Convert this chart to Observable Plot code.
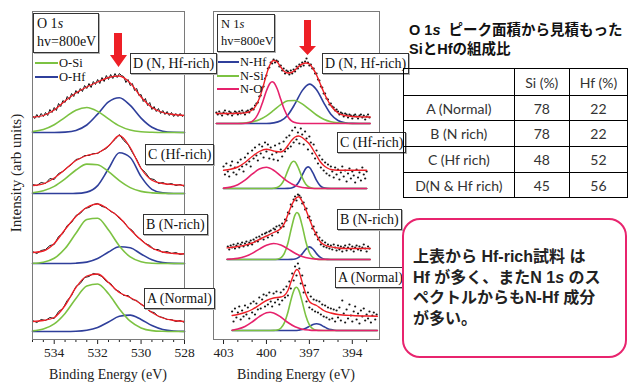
<!DOCTYPE html>
<html><head><meta charset="utf-8">
<script src="https://cdn.jsdelivr.net/npm/d3@7"></script>
<script src="https://cdn.jsdelivr.net/npm/@observablehq/plot@0.6"></script>
<style>
html,body{margin:0;padding:0;background:#fff;}
#wrap{position:relative;width:628px;height:383px;overflow:hidden;background:#fff;font-family:"Liberation Serif",serif;color:#111;}
.ab{position:absolute;}
.lbl{position:absolute;background:#fff;border:1px solid #333;box-shadow:1px 1px 0 #b0b0b0;font-family:"Liberation Serif",serif;font-size:14px;line-height:19px;padding:0 2px;white-space:nowrap;color:#111;}
.hv{position:absolute;background:#fff;border:1px solid #333;box-shadow:1px 1px 0 #b0b0b0;font-family:"Liberation Serif",serif;padding:1px 3px;white-space:nowrap;color:#111;}
.leg{position:absolute;font-family:"Liberation Serif",serif;font-size:12.5px;line-height:14px;white-space:nowrap;color:#111;}
.serif{font-family:"Liberation Serif",serif;white-space:nowrap;color:#222;}
.sw{position:absolute;height:2px;}
table.t{position:absolute;left:403px;top:68px;border-collapse:collapse;font-family:Lato,"Liberation Sans",sans-serif;font-size:14px;color:#333;}
table.t td{border:1px solid #000;padding:0;text-align:center;vertical-align:middle;}
</style></head><body><div id="wrap"></div>
<script>
// ---------------- O 1s data (heights in arb. units above each spectrum's baseline) ----------------
const spectra = ["A", "B", "C", "D"];
const oEnergy = [535, 534.5, 534, 533.5, 533, 532.5, 532, 531.5, 531, 530.5, 530, 529.5, 529, 528.5, 528];
const oBase = [8, 76, 146, 207];
const oSi_A = [0.6, 2.4, 7.6, 18.1, 33, 45.5, 47.5, 37.7, 22.6, 10.3, 3.6, 0.9, 0.2, 0, 0];
const oHf_A = [0, 0, 0, 0, 0.2, 1.2, 4.0, 9.5, 15.2, 16.4, 12, 5.9, 2.0, 0.5, 0.1];
const oFit_A = [10, 11, 14, 26, 44, 55.5, 57.5, 49, 39, 34, 27.5, 19, 13.5, 11, 10];
const oSi_B = [0.2, 1.3, 5.2, 14.9, 30.2, 43.9, 45.3, 33.5, 17.6, 6.6, 1.8, 0.3, 0, 0, 0];
const oHf_B = [0, 0, 0, 0, 0.3, 1.4, 5.0, 11.5, 16.8, 15.8, 9.5, 3.7, 0.9, 0.1, 0];
const oFit_B = [11, 12.5, 20, 34, 47, 56, 59.5, 54, 46, 34, 23.5, 15.5, 11.5, 10, 9.5];
const oSi_C = [0.8, 2.7, 7.1, 14.6, 23.5, 29.4, 28.7, 21.8, 12.9, 5.9, 2.1, 0.6, 0.1, 0, 0];
const oHf_C = [0, 0, 0, 0, 0.1, 1.4, 7.9, 24.7, 40.8, 36, 16.9, 4.2, 0.6, 0, 0];
const oFit_C = [8, 9.7, 15.5, 24, 33, 38, 40.5, 47.5, 58, 46, 25, 13.2, 10, 8.8, 8];
const oSi_D = [0.9, 3.0, 7.8, 15.2, 22.3, 25, 21.1, 13.6, 6.6, 2.4, 0.7, 0.2, 0, 0, 0];
const oHf_D = [0, 0, 0, 0.4, 2.1, 7.5, 18.4, 30.6, 34.8, 27.1, 14.4, 5.2, 1.3, 0.2, 0];
const oFit_D = [15.3, 17, 22.5, 31.5, 39.5, 45.5, 50.5, 55, 56.5, 49.5, 35.5, 25, 20, 18, 17];
// measured O 1s spectra, sampled from 535 eV downward
const oDataStep = [0.2, 0.2, 0.2, 0.1];
const oData_A = [11,9,12,11,14,13,20,23,31,36,45,48,54,55,58,57,55,50,48,42,40,36,36,32,31,27,25,20,19,15,14,12,12,10,11,9];
const oData_B = [12,10,13,14,18,19,27,30,38,41,48,50,55,56,59,60,57,56,52,50,45,42,36,33,27,24,20,18,14,14,11,12,10,11,9,10];
const oData_C = [9,8,11,10,15,14,20,22,26,29,34,35,38,38,40,40,43,45,50,54,59,53,49,41,34,25,21,15,14,10,11,9,10,8,9,7];
const oData_D = [17,14,18,15,19,16,20,17,23,20,25,22,29,26,32,30,36,33,39,36,42,39,44,41,47,44,49,45,51,48,53,49,55,51,57,53,58,54,59,55,59,57,56,50,53,47,49,42,44,37,38,31,34,27,30,23,26,21,24,19,22,18,21,17,20,16,19,16,19,16,18];
const oMajorTicks = [534, 532, 530, 528];
const oMinorTicks = [535, 534.5, 533.5, 533, 532.5, 531.5, 531, 530.5, 529.5, 529, 528.5];

// ---------------- N 1s data ([binding energy, height]) ----------------
const nBase = [9, 80, 151, 216];
const nHf_A = [[402.4,0],[398,0],[397.75,0.3],[397.5,0.9],[397.25,2.2],[397,4.1],[396.75,6.0],[396.5,6.7],[396.25,5.9],[396,4.0],[395.75,2.1],[395.5,0.9],[395.25,0.3],[395,0],[392.25,0]];
const nSi_A = [[402.4,0],[399.75,0],[399.5,0.1],[399.25,0.5],[399,2.3],[398.75,7.6],[398.5,18.3],[398.25,32.6],[398,42.4],[397.9,43.3],[397.75,40.7],[397.5,28.6],[397.25,14.8],[397,5.6],[396.75,1.6],[396.5,0.3],[396.25,0],[392.25,0]];
const nO_A = [[402.4,0.3],[402,1.4],[401.5,4.0],[401,8.5],[400.5,13.9],[400,17.8],[399.75,18.3],[399.5,17.6],[399,13.5],[398.5,8.0],[398,3.7],[397.5,1.3],[397,0.4],[396.5,0.1],[396,0],[392.25,0]];
const nFit_A = [[402.4,15],[402,16],[401.5,18],[401,21],[400.5,25.5],[400,30],[399.5,32.5],[399,33.5],[398.75,35],[398.5,40],[398.25,50],[398,59],[397.875,61],[397.75,59.5],[397.5,48],[397.25,36.5],[397,29],[396.75,26.5],[396.5,25],[396.25,22.5],[396,20],[395.5,17.5],[395,16],[394,15],[393,14.5],[392.25,14.3]];
const nHf_B = [[402.75,0],[398.5,0],[398.25,0.1],[398,0.5],[397.75,2.1],[397.5,5.6],[397.25,10.2],[397,12.6],[396.75,10.5],[396.5,5.9],[396.25,2.3],[396,0.6],[395.75,0.1],[395.5,0],[392.75,0]];
const nSi_B = [[402.75,0],[399.5,0],[399.25,0.3],[399,1.6],[398.75,6.1],[398.5,16.3],[398.25,31.7],[398,44.7],[397.875,47],[397.75,45.5],[397.5,33.6],[397.25,18],[397,7],[396.75,1.9],[396.5,0.4],[396.25,0],[392.75,0]];
const nO_B = [[402.75,0.2],[402.5,0.4],[402,1.1],[401.5,2.9],[401,6.1],[400.5,10.4],[400,14.3],[399.5,16],[399,14.5],[398.5,10.6],[398,6.3],[397.5,3.0],[397,1.2],[396.5,0.4],[396,0.1],[395.5,0],[392.75,0]];
const nFit_B = [[402.75,11.6],[402.5,12],[402,13],[401.5,14.4],[401,16.5],[400.5,20],[400,23.5],[399.5,27],[399,31],[398.75,36],[398.5,45],[398.25,54],[398,60.5],[397.75,62.8],[397.5,58],[397.25,50],[397,40.5],[396.75,31.5],[396.5,24.5],[396.25,18],[396,15],[395.5,12.6],[395,11.5],[394.5,11],[393.5,11],[392.75,11]];
const nHf_C = [[403,0],[398.75,0],[398.5,0.1],[398.25,0.5],[398,2.1],[397.75,6.3],[397.5,13.4],[397.25,20.1],[397.09,21.6],[397,21.1],[396.75,15.6],[396.5,8.1],[396.25,2.9],[396,0.7],[395.75,0.1],[395.5,0],[393,0]];
const nSi_C = [[403,0],[399.75,0],[399.5,0.2],[399.25,0.9],[399,3.4],[398.75,9.2],[398.5,18.1],[398.25,25.8],[398.1,27.3],[398,26.6],[397.75,19.9],[397.5,10.8],[397.25,4.2],[397,1.2],[396.75,0.2],[396.5,0],[393,0]];
const nO_C = [[403,0.4],[402.5,1.4],[402,3.8],[401.5,8.3],[401,14.3],[400.5,19.5],[400,21.2],[399.5,18.3],[399,12.5],[398.5,6.8],[398,2.9],[397.5,1.0],[397,0.3],[396.5,0],[393,0]];
const nFit_C = [[403,18.3],[402.5,19.3],[402,21.5],[401.5,26],[401,32],[400.5,37],[400,39.3],[399.5,37.5],[399,36.5],[398.75,38.5],[398.5,43],[398.25,48],[398,51.5],[397.75,52.5],[397.5,51],[397.25,48],[397,44.5],[396.75,39],[396.5,33],[396.25,27],[396,23],[395.75,20.5],[395.5,19],[395,18.3],[394,18.3],[393,18.3]];
const nHf_D = [[403.5,0],[400,0],[399.5,0.6],[399,2.7],[398.5,8.6],[398,19.8],[397.5,32.9],[397,39.4],[396.5,33.8],[396,20.9],[395.5,9.3],[395,3.0],[394.5,0.7],[394,0.1],[393.5,0],[392.75,0]];
const nSi_D = [[403.5,0],[402,0],[401.5,0.5],[401,1.6],[400.5,3.8],[400,7.7],[399.5,13.1],[399,18.8],[398.5,22.7],[398,23.0],[397.5,19.6],[397,14.1],[396.5,8.5],[396,4.3],[395.5,1.8],[395,0.7],[394.5,0.2],[394,0],[392.75,0]];
const nO_D = [[403.5,0],[401.75,0],[401.5,0.2],[401.25,0.7],[401,2.1],[400.75,5.6],[400.5,12.2],[400.25,22],[400,32.7],[399.75,40.3],[399.6,41.7],[399.5,41.1],[399.25,34.7],[399,24.2],[398.75,14],[398.5,6.7],[398.25,2.6],[398,0.9],[397.75,0.2],[397.5,0],[392.75,0]];
const nFit_D = [[403.5,10],[403,10],[402.5,10],[402,10.2],[401.5,10.6],[401.25,11.5],[401,13.5],[400.75,17.5],[400.5,25],[400.25,36],[400,49],[399.75,59],[399.5,63],[399.25,61.5],[399,56.5],[398.75,52],[398.5,50.5],[398.25,51],[398,53.5],[397.75,57],[397.5,59.5],[397.25,60.5],[397,59.5],[396.75,55],[396.5,48.5],[396.25,40],[396,31.5],[395.75,24],[395.5,18],[395,10.5],[394.5,8],[394,7],[393.5,6.7],[393,6.5],[392.75,6.5]];
// measured N 1s points, 0.1 eV apart from each start energy downward
const nDotStart = [402.4, 402.7, 403.0, 403.5];
const nDots_A = [19,9,22,13,18,24,11,20,14,25,16,23,12,27,18,29,16,27,21,33,22,31,36,24,35,26,38,29,24,37,28,39,31,26,38,30,41,33,44,35,49,42,57,50,64,55,67,62,47,55,38,45,29,38,23,34,21,31,19,30,18,29,16,26,14,25,13,23,11,22,12,21,9,20,13,23,10,30,17,8,21,12,26,15,9,19,24,11,17,7,20,14,22,10,16,12,19,8,15,18,11,16];
const nDots_B = [13,10,14,12,15,11,14,16,12,15,17,13,16,18,14,17,19,15,20,18,22,18,23,21,25,20,26,27,22,28,29,24,31,30,33,27,34,32,36,33,40,39,47,46,55,53,60,63,59,65,64,62,56,57,50,51,42,43,39,31,33,25,27,20,22,15,19,13,17,12,15,11,14,10,15,12,9,14,10,13,8,12,14,9,12,15,10,13,8,12,14,10,13,9,12,15,11,8,13,11];
const nDots_C = [22,14,25,17,12,23,27,16,21,14,26,19,29,22,17,31,24,35,27,22,38,30,41,33,28,44,35,42,31,46,37,44,30,41,34,29,43,36,28,45,39,32,47,37,51,40,53,42,58,46,61,49,56,45,60,54,44,57,50,39,52,46,35,44,30,38,25,33,21,29,18,26,15,24,13,22,17,11,21,14,19,9,16,22,12,18,7,15,20,10,17,13,6,19,11,16,8,21,14,10,17];
const nDots_D = [11,9,12,10,8,11,13,10,9,12,11,8,10,12,11,9,12,10,13,11,9,12,13,11,14,15,14,18,20,21,27,28,36,37,45,48,55,56,61,60,64,61,63,62,57,58,53,55,50,53,52,49,53,50,54,52,57,55,59,57,61,58,62,65,61,58,59,55,55,50,50,44,43,37,36,30,30,25,24,19,20,17,16,13,14,12,9,11,10,7,10,9,6,9,8,5,8,9,7,5,8,9,6,8,4,7,9,6];
const nMajorTicks = [403, 400, 397, 394];
const nMinorTicks = [402, 401, 399, 398, 396, 395, 393];

// ---------------- table & notes ----------------
const tableHead = ["", "Si (%)", "Hf (%)"];
const tableRows = ["A (Normal)", "B (N rich)", "C (Hf rich)", "D(N & Hf rich)"];
const siPct = [78, 78, 48, 45];
const hfPct = [22, 22, 52, 56];
const sampleLabels = ["A (Normal)", "B (N-rich)", "C (Hf-rich)", "D (N, Hf-rich)"];

// ---------------- helpers ----------------
const GREEN = "#7cc242", BLUE = "#2f3f9b", RED = "#ee1f26", PINK = "#e6226c", INK = "#151515";
const gridRows = (en, vals, b) => vals.map((v, i) => ({e: en[i], y: b + v}));
const pairRows = (pairs, b) => pairs.map(([e, v]) => ({e, y: b + v}));
const stepRows = (start, step, vals, b) => vals.map((v, i) => ({e: Math.round((start - i * step) * 100) / 100, y: b + v}));
const axStyle = {fontFamily: "'Liberation Serif', serif", fontSize: "13.5px", color: "#222", background: "transparent", overflow: "visible"};
const wrap = document.getElementById("wrap");

// ---------------- O 1s panel ----------------
const oSi = [oSi_A, oSi_B, oSi_C, oSi_D], oHf = [oHf_A, oHf_B, oHf_C, oHf_D];
const oFit = [oFit_A, oFit_B, oFit_C, oFit_D], oData = [oData_A, oData_B, oData_C, oData_D];
const oMarks = [];
spectra.forEach((s, k) => {
  const b = oBase[k];
  oMarks.push(Plot.line(gridRows(oEnergy, oHf[k], b), {x: "e", y: "y", stroke: BLUE, strokeWidth: 1.6, curve: "monotone-x"}));
  oMarks.push(Plot.line(gridRows(oEnergy, oSi[k], b), {x: "e", y: "y", stroke: GREEN, strokeWidth: 1.6, curve: "monotone-x"}));
  oMarks.push(Plot.line(stepRows(535, oDataStep[k], oData[k], b), {x: "e", y: "y", stroke: INK, strokeWidth: 1}));
  oMarks.push(Plot.line(gridRows(oEnergy, oFit[k], b), {x: "e", y: "y", stroke: RED, strokeWidth: 1.3, curve: "monotone-x"}));
});
const oPlot = Plot.plot({
  width: 200, height: 383, marginLeft: 32, marginRight: 16, marginTop: 11, marginBottom: 44,
  x: {domain: [535, 528], label: null},
  y: {domain: [0, 328], axis: null},
  style: axStyle,
  marks: [
    Plot.axisX({ticks: oMinorTicks, tickSize: 3, tickFormat: () => "", label: null}),
    Plot.axisX({ticks: oMajorTicks, tickSize: 5, tickPadding: 3, tickFormat: d => String(d), label: null, fontFamily: "Liberation Serif"}),
    ...oMarks,
    Plot.frame({stroke: "#7a7a7a"})
  ]
});
const oDiv = document.createElement("div");
oDiv.className = "ab"; oDiv.style.cssText = "left:0;top:0;width:200px;height:383px;";
oDiv.appendChild(oPlot); wrap.appendChild(oDiv);

// ---------------- N 1s panel ----------------
const nHf = [nHf_A, nHf_B, nHf_C, nHf_D], nSi = [nSi_A, nSi_B, nSi_C, nSi_D], nO = [nO_A, nO_B, nO_C, nO_D];
const nFit = [nFit_A, nFit_B, nFit_C, nFit_D], nDots = [nDots_A, nDots_B, nDots_C, nDots_D];
const nMarks = [];
spectra.forEach((s, k) => {
  const b = nBase[k];
  nMarks.push(Plot.line(pairRows(nHf[k], b), {x: "e", y: "y", stroke: BLUE, strokeWidth: 1.6, curve: "monotone-x"}));
  nMarks.push(Plot.line(pairRows(nSi[k], b), {x: "e", y: "y", stroke: GREEN, strokeWidth: 1.6, curve: "monotone-x"}));
  nMarks.push(Plot.line(pairRows(nO[k], b), {x: "e", y: "y", stroke: PINK, strokeWidth: 1.6, curve: "monotone-x"}));
  nMarks.push(Plot.dot(stepRows(nDotStart[k], 0.1, nDots[k], b), {x: "e", y: "y", r: 1.1, fill: INK, stroke: null}));
  nMarks.push(Plot.line(pairRows(nFit[k], b), {x: "e", y: "y", stroke: RED, strokeWidth: 1.4, curve: "monotone-x"}));
});
const nPlot = Plot.plot({
  width: 195, height: 383, marginLeft: 13, marginRight: 16, marginTop: 11, marginBottom: 44,
  x: {domain: [403.7, 392.1], label: null},
  y: {domain: [0, 328], axis: null},
  style: axStyle,
  marks: [
    Plot.axisX({ticks: nMinorTicks, tickSize: 3, tickFormat: () => "", label: null}),
    Plot.axisX({ticks: nMajorTicks, tickSize: 5, tickPadding: 3, tickFormat: d => String(d), label: null, fontFamily: "Liberation Serif"}),
    ...nMarks,
    Plot.frame({stroke: "#7a7a7a"})
  ]
});
const nDiv = document.createElement("div");
nDiv.className = "ab"; nDiv.style.cssText = "left:200px;top:0;width:195px;height:383px;";
nDiv.appendChild(nPlot); wrap.appendChild(nDiv);

// ---------------- annotations ----------------
function add(cls, css, html) {
  const d = document.createElement("div");
  d.className = cls; d.style.cssText = css; d.innerHTML = html;
  wrap.appendChild(d); return d;
}
// axis titles
add("ab serif", "left:16px;top:173px;transform:translate(-50%,-50%) rotate(-90deg);font-size:15px;", "Intensity (arb units)");
add("ab serif", "left:108px;top:367px;transform:translateX(-50%);font-size:14px;line-height:16px;", "Binding Energy (eV)");
add("ab serif", "left:296px;top:367px;transform:translateX(-50%);font-size:14px;line-height:16px;", "Binding Energy (eV)");
// core-level boxes
add("hv", "left:33px;top:13px;width:58px;height:36px;font-size:14px;line-height:18px;", "O 1<i>s</i><br>hv=800eV");
add("hv", "left:217px;top:14px;width:50px;height:34px;font-size:12.5px;line-height:17px;", "N 1<i>s</i><br>hv=800eV");
// legends
add("sw", `left:35px;top:62px;width:23px;background:${GREEN};`, "");
add("leg", "left:59px;top:56px;", "O-Si");
add("sw", `left:35px;top:76px;width:23px;background:${BLUE};`, "");
add("leg", "left:59px;top:70px;", "O-Hf");
add("sw", `left:217px;top:61px;width:22px;background:${BLUE};`, "");
add("leg", "left:240px;top:55px;", "N-Hf");
add("sw", `left:217px;top:75px;width:22px;background:${GREEN};`, "");
add("leg", "left:240px;top:69px;", "N-Si");
add("sw", `left:217px;top:88px;width:22px;background:${PINK};`, "");
add("leg", "left:240px;top:82px;", "N-O");
// sample labels (A..D), left then right panel
const oLabelPos = [[144, 288], [143, 214], [145, 144], [130, 53]];
const nLabelPos = [[335, 267], [337, 209], [337, 132], [322, 53]];
sampleLabels.forEach((t, k) => {
  add("lbl", `left:${oLabelPos[k][0]}px;top:${oLabelPos[k][1]}px;`, t);
  add("lbl", `left:${nLabelPos[k][0]}px;top:${nLabelPos[k][1]}px;`, t);
});
// red arrows
add("ab", "left:110px;top:32px;width:18px;height:36px;", `<svg width="18" height="36"><polygon points="4,1 12,1 12,23 17,23 8.5,35 0,23 4,23" fill="${RED}"/></svg>`);
add("ab", "left:299px;top:19px;width:18px;height:37px;", `<svg width="18" height="37"><polygon points="5,1 12,1 12,27 17,27 8.5,36 0,27 5,27" fill="${RED}"/></svg>`);
// table title
add("ab", "left:409px;top:21px;font:bold 14.5px/19px 'Liberation Sans','Noto Sans CJK JP',sans-serif;white-space:nowrap;color:#111;", "O 1<i>s</i>&nbsp; ピーク面積から見積もった<br>SiとHfの組成比");
// table
const tbl = document.createElement("table");
tbl.className = "t";
const rowH = [27, 25, 26, 26, 25];
let html = `<tr style="height:${rowH[0]}px"><td style="width:114px">${tableHead[0]}</td><td style="width:57px">${tableHead[1]}</td><td style="width:60px">${tableHead[2]}</td></tr>`;
tableRows.forEach((r, i) => {
  html += `<tr style="height:${rowH[i + 1]}px"><td>${r}</td><td>${siPct[i]}</td><td>${hfPct[i]}</td></tr>`;
});
tbl.innerHTML = html;
wrap.appendChild(tbl);
// note box
add("ab", "left:402px;top:218px;width:221px;height:136px;border:2px solid #e8246e;border-radius:18px;box-sizing:content-box;background:#fff;", "");
add("ab", "left:413px;top:247px;font:bold 16px/20.5px 'Liberation Sans','Noto Sans CJK JP',sans-serif;white-space:nowrap;color:#222;",
  "上表から Hf-rich試料 は<br>Hf が多く、またN 1<i>s</i> のス<br>ペクトルからもN-Hf 成分<br>が多い。");
</script></body></html>
